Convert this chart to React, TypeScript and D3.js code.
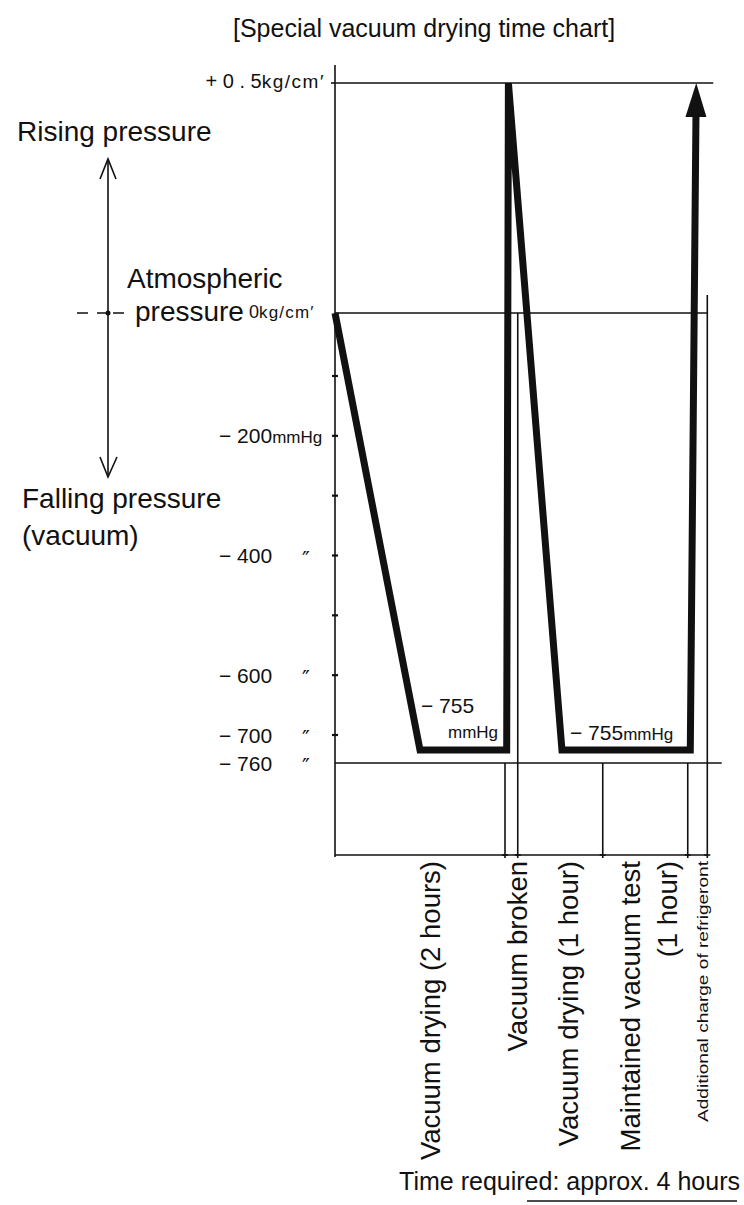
import React from 'react';
import * as d3 from 'd3';

// ---------------- data ----------------
// Time in hours, pressure in mmHg (gauge); +0.5 kg/cm² ≈ +368 mmHg
const profileHours = [0, 1.0, 2.02, 2.04, 2.67, 4.18, 4.25];
const profilePressure = [0, -732, -732, 368, -732, -732, 368];

const phaseBounds = [0, 2.0, 2.15, 3.15, 4.15, 4.38];
const phaseLabels = [
  'Vacuum drying (2 hours)',
  'Vacuum broken',
  'Vacuum drying (1 hour)',
  'Maintained vacuum test',
  '(1 hour)',
  'Additional charge of refrigeront',
];
const phaseLabelHours = [1.24, 2.26, 2.86, 3.59, 4.02, 4.39];

const levelTop = 368; // +0.5 kg/cm²
const levelAtm = 0;
const levelFloor = -760;

const majorTicks = [-200, -400, -600, -700, -760];
const majorTickNumbers = ['− 200', '− 400', '− 600', '− 700', '− 760'];
const majorTickUnits = ['mmHg', '″', '″', '″', '″'];
const minorTicks = [-100, -300, -500];

const topLabelNumber = '+ 0 . 5';
const kgUnit = 'kg/cm′';
const atmLabelNumber = '0';
const plateauNumber = '− 755';
const plateauUnit = 'mmHg';

// ---------------- layout ----------------
const W = 744;
const H = 1205;
const FONT = "'Liberation Sans', Arial, Helvetica, sans-serif";
const INK = '#111';
const TIME_AXIS_Y = 855;
const LABEL_TOP_Y = 861;

const xScale = d3.scaleLinear().domain([0, 4.38]).range([335, 335 + 4.38 * 85]);
const yScale = d3
  .scaleLinear()
  .domain([368, 0, -100, -700, -760])
  .range([83, 313, 376, 735, 763]);

export default function App() {
  const pts: [number, number][] = profileHours.map((h, i) => [xScale(h), yScale(profilePressure[i])]);
  const n = pts.length;
  const tip = pts[n - 1];
  const prev = pts[n - 2];
  const headLen = 34;
  const headHalf = 10.5;
  const baseY = tip[1] + headLen;
  const f = (prev[1] - baseY) / (prev[1] - tip[1]);
  const baseX = prev[0] + (tip[0] - prev[0]) * f;
  const mainPts = [...pts.slice(0, n - 1), [baseX, baseY] as [number, number]];
  const lineGen = d3.line<[number, number]>().x((d) => d[0]).y((d) => d[1]);
  const mainPath = lineGen(mainPts) || '';

  const x0 = xScale(0);
  const yTop = yScale(levelTop);
  const yAtm = yScale(levelAtm);
  const yFloor = yScale(levelFloor);

  const dividerFrom = [yFloor, yFloor, yAtm, yFloor, yFloor, yAtm - 18];

  return (
    <svg
      width={W}
      height={H}
      viewBox={`0 0 ${W} ${H}`}
      style={{ display: 'block', background: '#fff', position: 'absolute', left: 0, top: 0 }}
    >
      <defs>
        <clipPath id="plotClip">
          <rect x={0} y={yTop} width={W} height={H - yTop} />
        </clipPath>
      </defs>
      <rect x={0} y={0} width={W} height={H} fill="#fff" />

      {/* title */}
      <text x={233} y={37} fontFamily={FONT} fontSize={25} fill={INK}>
        [Special vacuum drying time chart]
      </text>

      {/* left annotations */}
      <g fontFamily={FONT} fontSize={28} fill={INK}>
        <text x={17} y={141}>Rising pressure</text>
        <text x={127} y={288}>Atmospheric</text>
        <text x={135} y={321}>pressure</text>
        <text x={22} y={508}>Falling pressure</text>
        <text x={22} y={545}>(vacuum)</text>
      </g>
      <g stroke={INK} strokeWidth={1.6} fill="none">
        <line x1={108} y1={159} x2={108} y2={476} />
        <polyline points="100,179 108,159 116,179" />
        <polyline points="100,457 108,477 117,457" />
        <line x1={77} y1={yAtm} x2={124} y2={yAtm} strokeDasharray="11 9 10 6 11" />
      </g>
      <circle cx={108} cy={yAtm} r={2.5} fill={INK} />

      {/* frame lines */}
      <g stroke={INK} strokeWidth={1.6} fill="none">
        <line x1={x0} y1={65} x2={x0} y2={TIME_AXIS_Y + 2} />
        <line x1={x0} y1={yTop} x2={xScale(4.45)} y2={yTop} />
        <line x1={x0} y1={yAtm} x2={xScale(4.38)} y2={yAtm} />
        <line x1={x0} y1={yFloor} x2={xScale(4.55)} y2={yFloor} />
        <line x1={x0} y1={TIME_AXIS_Y} x2={xScale(phaseBounds[phaseBounds.length - 1])} y2={TIME_AXIS_Y} />
        {phaseBounds.slice(1).map((b, i) => (
          <line key={b} x1={xScale(b)} y1={dividerFrom[i + 1]} x2={xScale(b)} y2={TIME_AXIS_Y + 3} />
        ))}
        {phaseBounds.slice(1).map((b) => (
          <line key={'t' + b} x1={xScale(b) - 3} y1={TIME_AXIS_Y} x2={xScale(b) + 3} y2={TIME_AXIS_Y} />
        ))}
        {[...minorTicks, ...majorTicks.slice(0, 4)].map((v) => (
          <line key={'yt' + v} x1={x0 - 3} y1={yScale(v)} x2={x0 + 3} y2={yScale(v)} strokeWidth={2.2} />
        ))}
        <line x1={x0 - 4} y1={yTop} x2={x0} y2={yTop} />
      </g>

      {/* y tick labels */}
      <text x={325} y={yTop + 5} textAnchor="end" fontFamily={FONT} fill={INK}>
        <tspan fontSize={20}>{topLabelNumber}</tspan>
        <tspan fontSize={19} letterSpacing={1.5}>{kgUnit}</tspan>
      </text>
      <text x={249} y={yAtm + 5} fontFamily={FONT} fill={INK}>
        <tspan fontSize={18}>{atmLabelNumber}</tspan>
        <tspan fontSize={17} letterSpacing={1.2}>{kgUnit}</tspan>
      </text>
      {majorTicks.map((v, i) => (
        <g key={'yl' + v} fontFamily={FONT} fill={INK}>
          <text x={219} y={yScale(v) + 7.5}>
            <tspan fontSize={21}>{majorTickNumbers[i]}</tspan>
            {majorTickUnits[i] === 'mmHg' ? <tspan fontSize={17}>{majorTickUnits[i]}</tspan> : null}
          </text>
          {majorTickUnits[i] !== 'mmHg' ? (
            <text x={306} y={yScale(v) + 11} textAnchor="middle" fontSize={21} fontFamily="'DejaVu Sans', sans-serif">
              {majorTickUnits[i]}
            </text>
          ) : null}
        </g>
      ))}

      {/* pressure profile */}
      <path
        d={mainPath}
        fill="none"
        stroke={INK}
        strokeWidth={7}
        strokeLinejoin="miter"
        strokeMiterlimit={6}
        clipPath="url(#plotClip)"
      />
      <path
        d={`M${tip[0]},${tip[1]} L${baseX - headHalf},${baseY} L${baseX + headHalf},${baseY} Z`}
        fill={INK}
      />

      {/* plateau labels */}
      <g fontFamily={FONT} fill={INK}>
        <text x={421} y={yScale(-732) - 37}>
          <tspan fontSize={21}>{plateauNumber}</tspan>
        </text>
        <text x={448} y={yScale(-732) - 12} fontSize={17}>
          {plateauUnit}
        </text>
        <text x={570} y={yScale(-732) - 10}>
          <tspan fontSize={21}>{plateauNumber}</tspan>
          <tspan fontSize={17}>{plateauUnit}</tspan>
        </text>
      </g>

      {/* phase labels (rotated) */}
      {phaseLabels.map((lab, i) => {
        const small = i === phaseLabels.length - 1;
        return (
          <text
            key={lab}
            transform={`translate(${xScale(phaseLabelHours[i])},${LABEL_TOP_Y}) rotate(-90)`}
            textAnchor="end"
            fontFamily={FONT}
            fontSize={small ? 15 : 27.5}
            fill={INK}
            {...(small ? { textLength: 261, lengthAdjust: 'spacingAndGlyphs' } : {})}
          >
            {lab}
          </text>
        );
      })}

      {/* bottom note */}
      <text x={740} y={1190} textAnchor="end" fontFamily={FONT} fontSize={25} fill={INK}>
        Time required: approx. 4 hours
      </text>
      <line x1={527} y1={1201} x2={737} y2={1201} stroke={INK} strokeWidth={1.6} />
    </svg>
  );
}
